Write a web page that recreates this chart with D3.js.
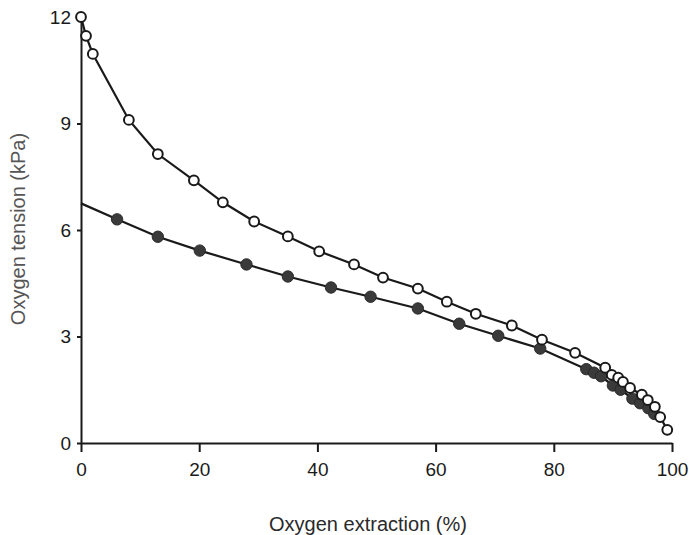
<!DOCTYPE html>
<html><head><meta charset="utf-8">
<script src="https://cdn.jsdelivr.net/npm/d3@7/dist/d3.min.js"></script>
<style>body{margin:0;background:#fff}svg{display:block}</style>
</head><body>
<svg id="c" width="689" height="535"></svg>
<script>
const xTicks = [0, 20, 40, 60, 80, 100];
const yTicks = [0, 3, 6, 9, 12];
const xTitle = "Oxygen extraction (%)";
const yTitle = "Oxygen tension (kPa)";
// open circles series
const openX = [0, 0.85, 2.0, 8.1, 13.0, 19.1, 24.0, 29.3, 35.0, 40.3, 46.2, 51.1, 57.0, 61.9, 66.8, 72.9, 78.0, 83.6, 88.7, 89.8, 90.9, 91.7, 92.9, 94.9, 95.9, 97.1, 98.0, 99.2];
const openY = [12.0, 11.47, 10.96, 9.1, 8.14, 7.4, 6.78, 6.24, 5.82, 5.40, 5.03, 4.66, 4.35, 3.98, 3.64, 3.31, 2.91, 2.54, 2.12, 1.92, 1.84, 1.72, 1.55, 1.36, 1.21, 1.02, 0.73, 0.37];
// filled circles series (first point is line start only, no marker)
const filledX = [0, 6.1, 13.0, 20.1, 28.0, 35.0, 42.3, 49.0, 57.0, 64.0, 70.6, 77.7, 85.5, 86.8, 88.0, 90.0, 91.3, 93.3, 94.6, 96.0, 97.0];
const filledY = [6.75, 6.30, 5.81, 5.42, 5.03, 4.69, 4.38, 4.12, 3.79, 3.36, 3.02, 2.66, 2.08, 1.98, 1.88, 1.62, 1.50, 1.25, 1.12, 0.98, 0.82];
const filledMarker = filledX.map((d, i) => i > 0);

const svg = d3.select("#c");
const x = d3.scaleLinear().domain([0, 100]).range([81, 672]);
const y = d3.scaleLinear().domain([0, 12]).range([443, 17]);
const font = "'Liberation Sans', Arial, sans-serif";

const xa = svg.append("g").attr("transform", "translate(0,443)")
  .call(d3.axisBottom(x).tickValues(xTicks).tickSize(9).tickPadding(11).tickSizeOuter(0));
const ya = svg.append("g").attr("transform", "translate(81,0)")
  .call(d3.axisLeft(y).tickValues(yTicks).tickSize(4).tickPadding(6).tickSizeOuter(0));
[xa, ya].forEach(a => {
  a.select(".domain").attr("stroke", "#1a1a1a").attr("stroke-width", 2);
  a.selectAll(".tick line").attr("stroke", "#1a1a1a").attr("stroke-width", 2);
  a.selectAll(".tick text").attr("fill", "#1a1a1a").style("font-family", font).style("font-size", "19px");
});

const line = d3.line().x(d => x(d[0])).y(d => y(d[1]));
const filled = filledX.map((v, i) => [v, filledY[i], filledMarker[i]]);
const open = openX.map((v, i) => [v, openY[i]]);

svg.append("path").datum(filled).attr("d", line).attr("fill", "none").attr("stroke", "#1a1a1a").attr("stroke-width", 2.2);
svg.append("path").datum(open).attr("d", line).attr("fill", "none").attr("stroke", "#1a1a1a").attr("stroke-width", 2.2);

svg.append("g").selectAll("circle").data(filled.filter(d => d[2])).join("circle")
  .attr("cx", d => x(d[0])).attr("cy", d => y(d[1])).attr("r", 5.7)
  .attr("fill", "#3a3a3a").attr("stroke", "#2a2a2a").attr("stroke-width", 1);
svg.append("g").selectAll("circle").data(open).join("circle")
  .attr("cx", d => x(d[0])).attr("cy", d => y(d[1])).attr("r", 4.9)
  .attr("fill", "#fff").attr("stroke", "#1a1a1a").attr("stroke-width", 2);

svg.append("text").attr("x", 368).attr("y", 531).attr("text-anchor", "middle")
  .style("font-family", font).style("font-size", "20px").attr("fill", "#2a2a2a").text(xTitle);
svg.append("text").attr("transform", "translate(25,229) rotate(-90)").attr("text-anchor", "middle")
  .style("font-family", font).style("font-size", "20px").attr("fill", "#555").text(yTitle);
</script>
</body></html>
